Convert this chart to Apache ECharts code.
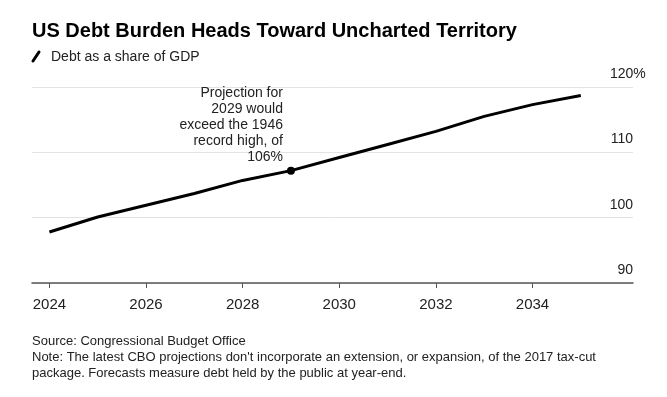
<!DOCTYPE html>
<html>
<head>
<meta charset="utf-8">
<script src="https://cdn.jsdelivr.net/npm/echarts@6/dist/echarts.min.js"></script>
<style>
  html, body { margin: 0; padding: 0; background: #fff; }
  #chart { width: 667px; height: 397px; }
</style>
</head>
<body>
<div id="chart"></div>
<script>
// data
const years = [2024, 2025, 2026, 2027, 2028, 2029, 2030, 2031, 2032, 2033, 2034, 2035];
const debtShare = [97.8, 100.1, 101.9, 103.7, 105.7, 107.2, 109.2, 111.2, 113.2, 115.5, 117.3, 118.7];
const xTicks = [2024, 2026, 2028, 2030, 2032, 2034];
const yTicks = [90, 100, 110, 120];
const noteYear = 2029;
const noteText = "Projection for\n2029 would\nexceed the 1946\nrecord high, of\n106%";

const FONT = "'Liberation Sans', Arial, sans-serif";

const chart = echarts.init(document.getElementById("chart"));

const seriesData = years.map((y, i) => {
  const item = { value: [y, debtShare[i]] };
  if (y === noteYear) {
    item.symbol = "circle";
    item.symbolSize = 8;
    item.label = {
      show: true,
      formatter: noteText,
      position: [-4, -1],
      align: "right",
      verticalAlign: "bottom",
      fontFamily: FONT,
      fontSize: 14,
      lineHeight: 16,
      color: "#222",
    };
  }
  return item;
});

const option = {
  animation: false,
  backgroundColor: "#fff",
  title: [
    {
      text: "US Debt Burden Heads Toward Uncharted Territory",
      left: 27,
      top: 16,
      textStyle: { fontFamily: FONT, fontSize: 20, fontWeight: "bold", color: "#000" },
    },
    {
      text: "Debt as a share of GDP",
      left: 46,
      top: 45,
      textStyle: { fontFamily: FONT, fontSize: 14, fontWeight: "normal", color: "#222" },
    },
    {
      text: "Source: Congressional Budget Office\nNote: The latest CBO projections don't incorporate an extension, or expansion, of the 2017 tax-cut\npackage. Forecasts measure debt held by the public at year-end.",
      left: 27,
      top: 328,
      textStyle: { fontFamily: FONT, fontSize: 13, fontWeight: "normal", color: "#222", lineHeight: 16 },
    },
  ],
  graphic: [
    {
      // legend mark next to the subtitle
      type: "line",
      shape: { x1: 33, y1: 61, x2: 39, y2: 52 },
      style: { stroke: "#000", lineWidth: 3, lineCap: "round" },
    },
  ],
  grid: { left: 32, right: 34, top: 87, bottom: 114 },
  xAxis: {
    type: "value",
    min: 2023.64,
    max: 2036.08,
    splitLine: { show: false },
    axisLine: { lineStyle: { color: "#555", width: 1.5 } },
    axisTick: { show: true, customValues: xTicks, length: 5, lineStyle: { color: "#555" } },
    axisLabel: {
      customValues: xTicks,
      margin: 14,
      fontFamily: FONT,
      fontSize: 15,
      color: "#222",
      formatter: (v) => String(v),
    },
  },
  yAxis: {
    type: "value",
    position: "right",
    min: 90,
    max: 120,
    interval: 10,
    axisLine: { show: false },
    axisTick: { show: false },
    splitLine: { lineStyle: { color: "#e3e3e3", width: 1 } },
    axisLabel: {
      inside: true,
      margin: 0,
      align: "right",
      verticalAlign: "bottom",
      padding: [0, 0, 6, 0],
      fontFamily: FONT,
      fontSize: 14,
      color: "#222",
      // top label carries the unit, which hangs past the right edge
      formatter: (v) => (v === yTicks[yTicks.length - 1] ? "{w|" + v + "%}" : String(v)),
      rich: {
        w: { fontFamily: FONT, fontSize: 14, color: "#222", width: 23, align: "left" },
      },
    },
  },
  series: [
    {
      type: "line",
      data: seriesData,
      symbol: "none",
      showSymbol: true,
      lineStyle: { color: "#000", width: 3 },
      itemStyle: { color: "#000" },
      z: 5,
    },
  ],
};

chart.setOption(option);
</script>
</body>
</html>
